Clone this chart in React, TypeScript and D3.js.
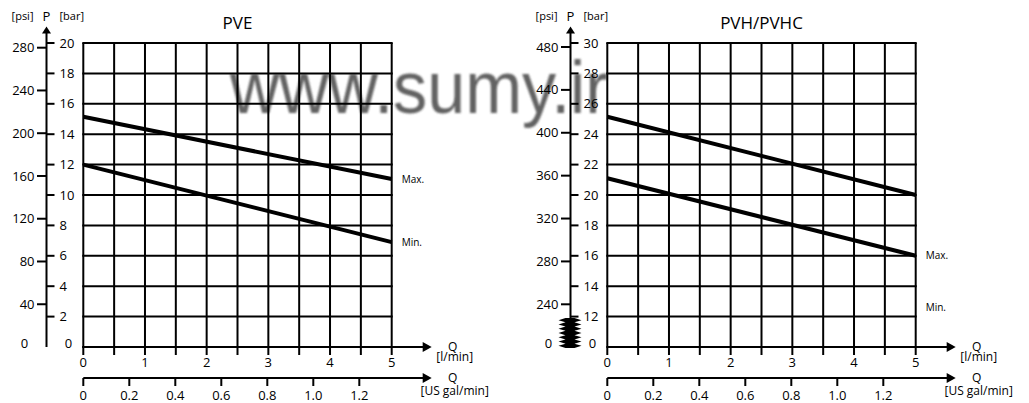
import React from 'react';
import * as d3 from 'd3';

// flow in l/min at the start and end of each curve
const flowLmin = [0, 5];
const pveMax = [15.15, 11.05];
const pveMin = [12.0, 6.9];
const pvhMax = [25.15, 20.0];
const pvhMin = [21.1, 16.0];

const flowTicks = [0, 1, 2, 3, 4, 5];
const galTicks = [0, 0.2, 0.4, 0.6, 0.8, 1.0, 1.2];

const pveBarTicks = [2, 4, 6, 8, 10, 12, 14, 16, 18, 20];
const pvePsiTicks = [40, 80, 120, 160, 200, 240, 280];
const pvhBarTicks = [12, 14, 16, 18, 20, 22, 24, 26, 28, 30];
const pvhPsiTicks = [240, 280, 320, 360, 400, 440, 480];

// where the Max./Min. captions sit (bar)
const pveLabelBar = [11.05, 6.9];
const pvhLabelBar = [16.0, 12.6];

const FONT = '"Open Sans", "DejaVu Sans", sans-serif';
const TOP = 43;
const BOTTOM = 347;

interface ChartProps {
  ox: number;
  title: string;
  barDomain: [number, number];
  barRange: [number, number];
  psiDomain: [number, number];
  psiRange: [number, number];
  barTicks: number[];
  psiTicks: number[];
  maxLine: number[];
  minLine: number[];
  labelBar: number[];
  broken?: boolean;
}

const Chart = (p: ChartProps) => {
  const x = d3.scaleLinear().domain([0, 5]).range([p.ox, p.ox + 308.4]);
  const gal = d3.scaleLinear().domain([0, 1.2]).range([p.ox, p.ox + 276]);
  const bar = d3.scaleLinear().domain(p.barDomain).range(p.barRange);
  const psi = d3.scaleLinear().domain(p.psiDomain).range(p.psiRange);
  const ax = p.ox - 36.8;
  const arrowX = p.ox + 348.4;
  const galY = 378;

  const halfSteps = d3.range(0, 5.01, 0.5);
  const hLines = p.broken ? p.barTicks : [0, ...p.barTicks];

  const line = d3.line<number>()
    .x((d, i) => x(flowLmin[i]))
    .y(d => bar(d));

  // zigzag break mark on the pressure axis
  const zig: [number, number][] = [];
  if (p.broken) {
    const n = 14;
    const y0 = 318, y1 = 348;
    const step = (y1 - y0) / n;
    for (let i = 0; i <= n; i++) zig.push([ax - (i % 2 ? 12 : 5), y0 + i * step]);
    for (let i = n; i >= 0; i--) zig.push([ax + (i % 2 ? 11 : 4), y0 + i * step]);
  }

  return (
    <g fontFamily={FONT} fill="#000">
      <text x={(x(0) + x(5)) / 2} y={28.5} fontSize={17} textAnchor="middle">{p.title}</text>

      {/* grid */}
      {halfSteps.map(v => (
        <line key={'v' + v} x1={x(v)} x2={x(v)} y1={TOP} y2={BOTTOM + 8} stroke="#000" strokeWidth={2} />
      ))}
      {hLines.map(v => (
        <line key={'h' + v} x1={x(0) - 1} x2={x(5) + 1} y1={bar(v)} y2={bar(v)} stroke="#000" strokeWidth={2} />
      ))}

      {/* flow axis l/min */}
      <line x1={x(0) - 1} x2={arrowX - 6} y1={BOTTOM} y2={BOTTOM} stroke="#000" strokeWidth={2} />
      <path d={`M${arrowX},${BOTTOM} L${arrowX - 9},${BOTTOM - 5} L${arrowX - 9},${BOTTOM + 5} Z`} />
      {flowTicks.map(v => (
        <text key={'f' + v} x={x(v)} y={366.5} fontSize={13} textAnchor="middle">{v}</text>
      ))}
      <text x={arrowX + 21} y={351} fontSize={12} textAnchor="middle">Q</text>
      <text x={arrowX + 23} y={361} fontSize={12} textAnchor="middle">[l/min]</text>

      {/* flow axis US gal/min */}
      <line x1={gal(0)} x2={arrowX - 6} y1={galY} y2={galY} stroke="#000" strokeWidth={2} />
      <path d={`M${arrowX},${galY} L${arrowX - 9},${galY - 5} L${arrowX - 9},${galY + 5} Z`} />
      {galTicks.map(v => (
        <g key={'g' + v}>
          <line x1={gal(v)} x2={gal(v)} y1={galY} y2={galY + 8} stroke="#000" strokeWidth={2} />
          <text x={gal(v)} y={399.5} fontSize={13} textAnchor="middle">{v === 0 ? '0' : v.toFixed(1)}</text>
        </g>
      ))}
      <text x={arrowX + 21} y={382} fontSize={12} textAnchor="middle">Q</text>
      <text x={arrowX + 23} y={395} fontSize={12} textAnchor="middle">[US gal/min]</text>

      {/* pressure axis */}
      <line x1={ax} x2={ax} y1={32} y2={BOTTOM} stroke="#000" strokeWidth={2} />
      <path d={`M${ax},${26.5} L${ax - 4.5},${33.5} L${ax + 4.5},${33.5} Z`} />
      <text x={ax} y={21} fontSize={13} textAnchor="middle">P</text>
      <text x={ax - 13} y={20} fontSize={11} textAnchor="end">[psi]</text>
      <text x={ax + 13} y={20} fontSize={11}>[bar]</text>
      {p.psiTicks.map(v => (
        <g key={'p' + v}>
          <line x1={ax - 9.5} x2={ax} y1={psi(v)} y2={psi(v)} stroke="#000" strokeWidth={2} />
          <text x={ax - 12} y={psi(v)} dy="0.35em" fontSize={13} textAnchor="end">{v}</text>
        </g>
      ))}
      {p.barTicks.map(v => (
        <g key={'b' + v}>
          <line x1={ax} x2={ax + 8} y1={bar(v)} y2={bar(v)} stroke="#000" strokeWidth={2} />
          <text x={ax + 13} y={bar(v)} dy="0.35em" fontSize={13}>{v}</text>
        </g>
      ))}
      <text x={ax - 22} y={343} dy="0.35em" fontSize={13} textAnchor="middle">0</text>
      <text x={ax + 22} y={343} dy="0.35em" fontSize={13} textAnchor="middle">0</text>
      {p.broken && <polygon points={zig.map(d => d.join(',')).join(' ')} fill="#000" />}

      {/* curves */}
      <path d={line(p.maxLine) || ''} fill="none" stroke="#000" strokeWidth={4} />
      <path d={line(p.minLine) || ''} fill="none" stroke="#000" strokeWidth={4} />
      <text x={x(5) + 10} y={bar(p.labelBar[0])} dy="0.35em" fontSize={10}>Max.</text>
      <text x={x(5) + 10} y={bar(p.labelBar[1])} dy="0.35em" fontSize={10}>Min.</text>
    </g>
  );
};

export default function App() {
  return (
    <svg width={1029} height={403} style={{ position: 'absolute', left: 0, top: 0, background: '#fff' }}>
      <defs>
        <filter id="soft" x="-5%" y="-20%" width="110%" height="140%">
          <feGaussianBlur stdDeviation="1.2" />
        </filter>
      </defs>
      <rect width={1029} height={403} fill="#fff" />
      <text
        x={230}
        y={113}
        fontSize={74}
        fontFamily='"Liberation Sans", Arial, sans-serif'
        fill="#3a3a3a"
        opacity={0.8}
        textLength={378}
        lengthAdjust="spacingAndGlyphs"
        filter="url(#soft)"
      >www.sumy.ir</text>
      <Chart
        ox={83.3}
        title="PVE"
        barDomain={[0, 20]}
        barRange={[BOTTOM, TOP]}
        psiDomain={[0, 280]}
        psiRange={[BOTTOM, 47.7]}
        barTicks={pveBarTicks}
        psiTicks={pvePsiTicks}
        maxLine={pveMax}
        minLine={pveMin}
        labelBar={pveLabelBar}
      />
      <Chart
        ox={607.3}
        title="PVH/PVHC"
        barDomain={[12, 30]}
        barRange={[316.6, TOP]}
        psiDomain={[240, 480]}
        psiRange={[304.3, 47]}
        barTicks={pvhBarTicks}
        psiTicks={pvhPsiTicks}
        maxLine={pvhMax}
        minLine={pvhMin}
        labelBar={pvhLabelBar}
        broken
      />
    </svg>
  );
}
